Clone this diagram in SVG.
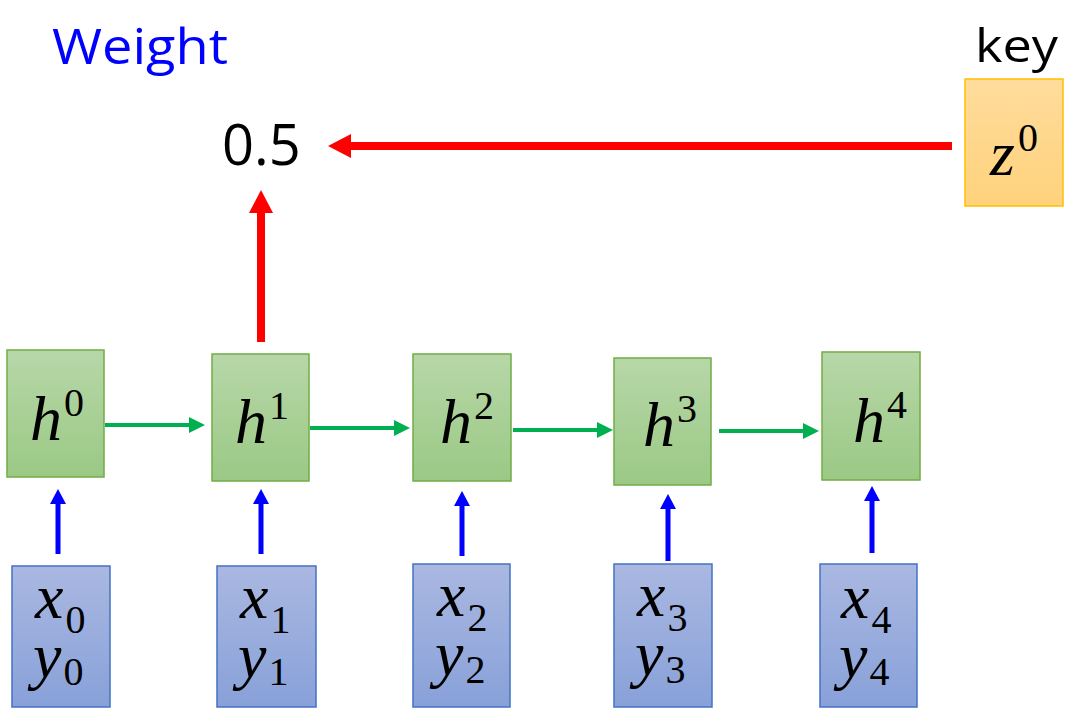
<svg xmlns="http://www.w3.org/2000/svg" width="1066" height="713" viewBox="0 0 1066 713">
<style>
.g{fill:url(#gg);stroke:#70ad47;stroke-width:1.5}
.b{fill:url(#bg);stroke:#4472c4;stroke-width:1.5}
.o{fill:url(#og);stroke:#ffc000;stroke-width:1.5}
.m{font-family:"Liberation Serif","DejaVu Serif",serif;font-style:italic;font-size:64px;fill:#000}
.d{font-style:normal;font-size:40px}
.ga{stroke:#00b050;stroke-width:4;fill:none;marker-end:url(#ah-g)}
.ba{stroke:#0000ff;stroke-width:5;fill:none;marker-end:url(#ah-b)}
.ra{stroke:#ff0000;stroke-width:8;fill:none;marker-end:url(#ah-r)}
.t{font-family:"Open Sans","Noto Sans",sans-serif}
</style>
<defs>
<linearGradient id="gg" x1="0" y1="0" x2="0" y2="1"><stop offset="0" stop-color="#b7d7a8"/><stop offset="1" stop-color="#9bc985"/></linearGradient>
<linearGradient id="bg" x1="0" y1="0" x2="0" y2="1"><stop offset="0" stop-color="#aab8e1"/><stop offset="1" stop-color="#88a1d9"/></linearGradient>
<linearGradient id="og" x1="0" y1="0" x2="0" y2="1"><stop offset="0" stop-color="#ffdc9c"/><stop offset="1" stop-color="#ffd27c"/></linearGradient>
<marker id="ah-g" markerUnits="userSpaceOnUse" markerWidth="18" markerHeight="18" refX="0" refY="8" orient="auto"><path d="M0,0 L16,8 L0,16 z" fill="#00b050"/></marker>
<marker id="ah-b" markerUnits="userSpaceOnUse" markerWidth="18" markerHeight="18" refX="0" refY="8" orient="auto"><path d="M0,0 L15,8 L0,16 z" fill="#0000ff"/></marker>
<marker id="ah-r" markerUnits="userSpaceOnUse" markerWidth="26" markerHeight="26" refX="0" refY="12" orient="auto"><path d="M0,0 L23,12 L0,24 z" fill="#ff0000"/></marker>
</defs>
<rect width="1066" height="713" fill="#fff"/>
<text class="t" x="52" y="64" font-size="50" fill="#0000ff" textLength="176" lengthAdjust="spacingAndGlyphs">Weight</text>
<text class="t" x="975" y="62" font-size="45" fill="#000" textLength="83" lengthAdjust="spacingAndGlyphs">key</text>
<text class="t" x="222" y="165" font-size="56" fill="#000">0.5</text>

<g id="z0"><rect class="o" x="965" y="79" width="98" height="127"/><text class="m" x="990" y="175">z<tspan class="d" dx="3" dy="-24">0</tspan></text></g>

<g id="h0"><rect class="g" x="7" y="350" width="97" height="127"/><text class="m" x="30" y="440">h<tspan class="d" dx="2" dy="-24">0</tspan></text></g>
<g id="h1"><rect class="g" x="212" y="354" width="97" height="127"/><text class="m" x="235" y="443">h<tspan class="d" dx="2" dy="-24">1</tspan></text></g>
<g id="h2"><rect class="g" x="413" y="354" width="98" height="127"/><text class="m" x="440" y="443">h<tspan class="d" dx="2" dy="-24">2</tspan></text></g>
<g id="h3"><rect class="g" x="614" y="358" width="97" height="127"/><text class="m" x="643" y="446">h<tspan class="d" dx="2" dy="-24">3</tspan></text></g>
<g id="h4"><rect class="g" x="822" y="352" width="98" height="128"/><text class="m" x="853" y="442">h<tspan class="d" dx="2" dy="-24">4</tspan></text></g>

<g id="xy0"><rect class="b" x="12" y="566" width="98" height="141"/><text class="m" x="35" y="618">x<tspan class="d" dx="2" dy="15">0</tspan><tspan x="33" y="677">y</tspan><tspan class="d" dx="2" dy="8">0</tspan></text></g>
<g id="xy1"><rect class="b" x="217" y="566" width="99" height="141"/><text class="m" x="240" y="618">x<tspan class="d" dx="2" dy="15">1</tspan><tspan x="238" y="677">y</tspan><tspan class="d" dx="2" dy="8">1</tspan></text></g>
<g id="xy2"><rect class="b" x="413" y="564" width="97" height="143"/><text class="m" x="437" y="616">x<tspan class="d" dx="2" dy="15">2</tspan><tspan x="435" y="675">y</tspan><tspan class="d" dx="2" dy="8">2</tspan></text></g>
<g id="xy3"><rect class="b" x="614" y="564" width="98" height="143"/><text class="m" x="637" y="616">x<tspan class="d" dx="2" dy="15">3</tspan><tspan x="635" y="675">y</tspan><tspan class="d" dx="2" dy="8">3</tspan></text></g>
<g id="xy4"><rect class="b" x="820" y="564" width="97" height="143"/><text class="m" x="841" y="618">x<tspan class="d" dx="2" dy="15">4</tspan><tspan x="839" y="677">y</tspan><tspan class="d" dx="2" dy="8">4</tspan></text></g>

<g id="connectors">
<path class="ga" d="M105,425 H189"/>
<path class="ga" d="M310,428 H394"/>
<path class="ga" d="M513,430 H597"/>
<path class="ga" d="M719,431 H803"/>
<path class="ba" d="M58,554 V504"/>
<path class="ba" d="M261,554 V504"/>
<path class="ba" d="M462,556 V506"/>
<path class="ba" d="M668,561 V509"/>
<path class="ba" d="M872,553 V501"/>
<path class="ra" d="M261,342 V213"/>
<path class="ra" d="M952,146 H351"/>
</g>
</svg>
